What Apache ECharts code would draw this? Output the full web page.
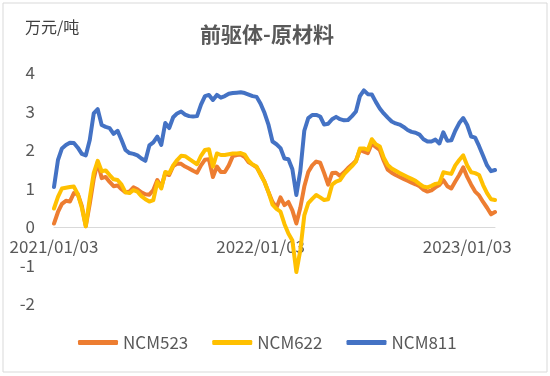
<!DOCTYPE html>
<html>
<head>
<meta charset="utf-8">
<script src="https://cdn.jsdelivr.net/npm/echarts@6/dist/echarts.min.js"></script>
<style>
    html, body {margin: 0; padding: 0; background: #fff;}
    #chart {width: 550px; height: 376px;}
</style>
</head>
<body>
<div id="chart"></div>
<script>
// 每周数据, 从 2021/01/03 开始
const startDate = '2021/01/03';
const pointCount = 112;

// 横轴只显示这三个标签 (第0, 52, 104周)
const xTickIndex = [0, 52, 104];
const xTickLabels = ['2021/01/03', '2022/01/03', '2023/01/03'];

const ncm523 = [
    0.09, 0.39, 0.6, 0.68, 0.66, 0.88, 0.85, 0.55, 0.02, 0.6,
    1.25, 1.68, 1.27, 1.3, 1.17, 1.06, 1.08, 0.98, 0.9, 0.92,
    1.03, 0.98, 0.9, 0.85, 0.84, 0.96, 1.22, 1.04, 1.39, 1.35,
    1.58, 1.65, 1.64, 1.57, 1.52, 1.46, 1.41, 1.6, 1.75, 1.76,
    1.3, 1.57, 1.43, 1.43, 1.6, 1.84, 1.87, 1.88, 1.82, 1.68,
    1.62, 1.55, 1.38, 1.17, 0.9, 0.65, 0.5, 0.77, 0.57, 0.65,
    0.43, 0.09, 0.5, 1.05, 1.43, 1.6, 1.7, 1.67, 1.4, 1.1,
    1.4, 1.41, 1.33, 1.42, 1.53, 1.62, 1.72, 2.0, 1.96, 1.92,
    2.17, 2.08, 2.0, 1.72, 1.49, 1.41, 1.35, 1.3, 1.25, 1.2,
    1.15, 1.11, 1.06, 0.97, 0.92, 0.95, 1.03, 1.09, 1.22, 1.06,
    1.0, 1.18, 1.35, 1.55, 1.3, 1.1, 0.92, 0.82, 0.65, 0.5,
    0.33, 0.39
];

const ncm622 = [
    0.48, 0.78, 1.0, 1.02, 1.04, 1.05, 0.85, 0.5, 0.02, 0.75,
    1.4, 1.72, 1.45, 1.47, 1.35, 1.24, 1.22, 1.1, 0.9, 0.88,
    0.96, 0.92, 0.8, 0.72, 0.66, 0.7, 1.17, 1.0, 1.43, 1.39,
    1.6, 1.74, 1.85, 1.84, 1.77, 1.7, 1.63, 1.85, 2.0, 2.02,
    1.57, 1.91, 1.87, 1.87, 1.89, 1.91, 1.91, 1.92, 1.88, 1.72,
    1.62, 1.57, 1.35, 1.17, 0.9, 0.58, 0.47, 0.4, 0.08, -0.17,
    -0.35, -1.17, -0.6, 0.3, 0.62, 0.73, 0.83, 0.77, 0.7, 0.72,
    1.1, 1.18, 1.22, 1.37, 1.48, 1.58, 1.7, 2.04, 2.04, 2.0,
    2.28, 2.15, 2.09, 1.8, 1.61, 1.52, 1.46, 1.4, 1.35, 1.3,
    1.25, 1.2, 1.12, 1.05, 1.03, 1.07, 1.12, 1.14, 1.42, 1.4,
    1.38, 1.6, 1.74, 1.86, 1.6, 1.42, 1.4, 1.35, 1.09, 0.88,
    0.72, 0.7
];

const ncm811 = [
    1.04, 1.74, 2.04, 2.13, 2.19, 2.18, 2.06, 1.9, 1.86, 2.26,
    2.95, 3.06, 2.65, 2.6, 2.57, 2.42, 2.5, 2.26, 2.0, 1.92,
    1.9, 1.86, 1.78, 1.72, 2.12, 2.2, 2.35, 2.13, 2.7, 2.57,
    2.85, 2.95, 3.0, 2.92, 2.88, 2.87, 2.88, 3.18, 3.4, 3.43,
    3.3, 3.43, 3.36, 3.4, 3.46, 3.48, 3.49, 3.5, 3.48, 3.44,
    3.4, 3.38, 3.2, 2.96, 2.65, 2.22, 2.15, 2.05, 1.78, 1.76,
    1.5, 0.83, 1.45, 2.5, 2.83, 2.91, 2.91, 2.87, 2.66, 2.68,
    2.8, 2.86, 2.8, 2.77, 2.78, 2.88, 3.0, 3.4, 3.55, 3.45,
    3.44, 3.25, 3.08, 2.95, 2.84, 2.74, 2.69, 2.66, 2.6, 2.52,
    2.47, 2.45, 2.4, 2.28, 2.22, 2.22, 2.27, 2.17, 2.46, 2.24,
    2.25, 2.5, 2.7, 2.83, 2.65, 2.35, 2.32, 2.1, 1.85, 1.6,
    1.45, 1.48
];

const seriesNames = ['NCM523', 'NCM622', 'NCM811'];
const seriesColors = ['#ED7D31', '#FFC000', '#4472C4'];

function pad(n) {
    return n < 10 ? '0' + n : '' + n;
}

// 日期类目
const dates = [];
const d0 = new Date(startDate);
for (let i = 0; i < pointCount; i++) {
    const d = new Date(d0.getFullYear(), d0.getMonth(), d0.getDate() + i * 7);
    dates.push(d.getFullYear() + '/' + pad(d.getMonth() + 1) + '/' + pad(d.getDate()));
}

const fontFamily = '"Noto Sans CJK SC", "Noto Sans", sans-serif';

const myChart = echarts.init(document.getElementById('chart'));

const option = {
    animation: false,
    title: {
        text: '前驱体-原材料',
        left: 262,
        top: 19,
        textAlign: 'center',
        textStyle: {
            fontFamily: fontFamily,
            fontSize: 21,
            fontWeight: 'bold',
            color: '#595959'
        }
    },
    graphic: [
        {
            type: 'rect',
            shape: {x: 3, y: 3, width: 544, height: 369},
            style: {fill: 'none', stroke: '#d9d9d9', lineWidth: 1}
        },
        {
            type: 'text',
            left: 25,
            top: 19,
            style: {
                text: '万元/吨',
                font: '16px ' + fontFamily,
                fill: '#404040'
            }
        }
    ],
    legend: {
        bottom: 20,
        left: 73,
        icon: 'roundRect',
        itemWidth: 40,
        itemHeight: 5,
        itemGap: 24,
        textStyle: {
            fontFamily: fontFamily,
            fontSize: 17,
            color: '#595959'
        },
        data: seriesNames
    },
    grid: {
        left: 54,
        right: 55,
        top: 73,
        bottom: 72,
        containLabel: false
    },
    xAxis: {
        type: 'category',
        boundaryGap: false,
        data: dates,
        axisLine: {
            onZero: true,
            lineStyle: {color: '#d9d9d9', width: 1}
        },
        axisTick: {show: false},
        axisLabel: {
            interval: (index) => xTickIndex.indexOf(index) >= 0,
            formatter: (value, index) => xTickLabels[xTickIndex.indexOf(index)] || '',
            margin: -66,
            fontFamily: fontFamily,
            fontSize: 17,
            color: '#595959'
        },
        splitLine: {show: false}
    },
    yAxis: {
        type: 'value',
        min: -2,
        max: 4,
        interval: 1,
        axisLine: {show: false},
        axisTick: {show: false},
        splitLine: {show: false},
        axisLabel: {
            margin: 19,
            fontFamily: fontFamily,
            fontSize: 17,
            color: '#595959'
        }
    },
    series: [ncm523, ncm622, ncm811].map((values, idx) => ({
        name: seriesNames[idx],
        type: 'line',
        data: values,
        showSymbol: false,
        symbol: 'none',
        color: seriesColors[idx],
        lineStyle: {width: 4, color: seriesColors[idx], cap: 'round', join: 'round'}
    }))
};

option && myChart.setOption(option);
</script>
</body>
</html>
